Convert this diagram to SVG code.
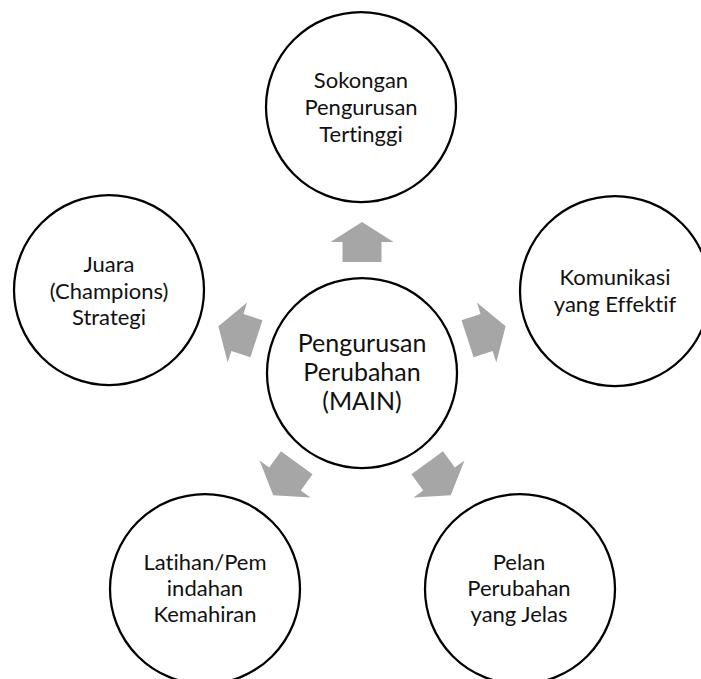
<svg xmlns="http://www.w3.org/2000/svg" width="701" height="679" viewBox="0 0 701 679">
  <style>
    .node circle { fill: #ffffff; stroke: #000000; stroke-width: 2.25; }
    .node text { font-family: Lato, "Liberation Sans", sans-serif; font-size: 22px; fill: #111111; text-anchor: middle; font-variant-ligatures: none; font-feature-settings: "liga" 0, "clig" 0; }
    #hub text { font-size: 25px; }
    .arrow { fill: #a6a6a6; }
  </style>
  <defs>
    <!-- block arrow pointing up, origin at the hub centre -->
    <polygon id="radial-arrow" class="arrow" points="0,-151 31.5,-131 19.5,-131 19.5,-111 -19.5,-111 -19.5,-131 -31.5,-131"/>
  </defs>
  <rect width="701" height="679" fill="#ffffff"/>

  <g id="connectors" transform="translate(362 373)">
    <use href="#radial-arrow"/>
    <use href="#radial-arrow" transform="rotate(72)"/>
    <use href="#radial-arrow" transform="rotate(144)"/>
    <use href="#radial-arrow" transform="rotate(216)"/>
    <use href="#radial-arrow" transform="rotate(288)"/>
  </g>

  <g id="hub" class="node">
    <circle cx="362" cy="373" r="95"/>
    <text x="362" y="352">Pengurusan</text>
    <text x="362" y="381">Perubahan</text>
    <text x="362" y="410">(MAIN)</text>
  </g>

  <g id="sokongan" class="node">
    <circle cx="361" cy="107" r="95"/>
    <text x="361" y="88">Sokongan</text>
    <text x="361" y="115">Pengurusan</text>
    <text x="361" y="142">Tertinggi</text>
  </g>

  <g id="komunikasi" class="node">
    <circle cx="615" cy="291" r="95"/>
    <text x="615" y="285">Komunikasi</text>
    <text x="615" y="312">yang Effektif</text>
  </g>

  <g id="pelan" class="node">
    <circle cx="520" cy="589" r="95"/>
    <text x="519" y="570">Pelan</text>
    <text x="519" y="596">Perubahan</text>
    <text x="519" y="622">yang Jelas</text>
  </g>

  <g id="latihan" class="node">
    <circle cx="205" cy="589" r="95"/>
    <text x="205" y="570">Latihan/Pem</text>
    <text x="205" y="596">indahan</text>
    <text x="205" y="622">Kemahiran</text>
  </g>

  <g id="juara" class="node">
    <circle cx="109" cy="290" r="95"/>
    <text x="109" y="272">Juara</text>
    <text x="109" y="299">(Champions)</text>
    <text x="109" y="325">Strategi</text>
  </g>
</svg>
